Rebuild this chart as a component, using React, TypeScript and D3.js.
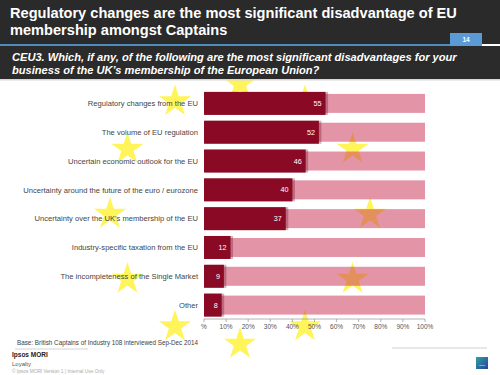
import React from "react";
import * as d3 from "d3";

const categories = [
  "Regulatory changes from the EU",
  "The volume of EU regulation",
  "Uncertain economic outlook for the EU",
  "Uncertainty around the future of the euro / eurozone",
  "Uncertainty over the UK's membership of the EU",
  "Industry-specific taxation from the EU",
  "The incompleteness of the Single Market",
  "Other",
];
const values = [55, 52, 46, 40, 37, 12, 9, 8];
const ticks = [0, 10, 20, 30, 40, 50, 60, 70, 80, 90, 100];
const tickLabels = ["%", "10%", "20%", "30%", "40%", "50%", "60%", "70%", "80%", "90%", "100%"];
const starAngles = [0, 30, 60, 90, 120, 150, 180, 210, 240, 270, 300, 330];

const titleLines = [
  "Regulatory changes are the most significant disadvantage of EU",
  "membership amongst Captains",
];
const questionLines = [
  "CEU3. Which, if any, of the following are the most significant disadvantages for your",
  "business of the UK\u2019s membership of the European Union?",
];

export default function App() {
  const W = 500, H = 375;
  const x = d3.scaleLinear().domain([0, 100]).range([204, 425]);
  const y = d3.scaleBand<string>().domain(categories).range([89, 319.5]).padding(0);
  const bw = y.bandwidth();
  const starPath = d3.symbol(d3.symbolStar, 320)() as string;
  const cx = 240, cy = 214, R = 130;
  const font = "Liberation Sans, Arial, sans-serif";

  return (
    <svg width={W} height={H} style={{ position: "absolute", left: 0, top: 0, display: "block" }} fontFamily={font}>
      <rect width={W} height={H} fill="#ffffff" />
      {/* stars */}
      {starAngles.map((a) => {
        const r = (a * Math.PI) / 180;
        return (
          <path key={a} d={starPath} fill="#fff55a"
            transform={`translate(${cx + R * Math.sin(r)},${cy - R * Math.cos(r)})`} />
        );
      })}
      {/* category labels */}
      {categories.map((c) => (
        <text key={c} x={198} y={(y(c) as number) + bw / 2} dy="0.35em" textAnchor="end" fontSize={7.6} fill="#454545">
          {c}
        </text>
      ))}
      {/* background bars */}
      {categories.map((c) => (
        <rect key={c} x={x(0)} y={(y(c) as number) + bw / 2 - 9.5} width={x(100) - x(0)} height={19}
          fill="#cd3c5f" fillOpacity={0.55} />
      ))}
      {/* value bars */}
      {categories.map((c, i) => (
        <g key={c}>
          <rect x={x(0) + 1} y={(y(c) as number) + bw / 2 - 11.5} width={x(values[i]) - x(0) + 1.5} height={23}
            fill="#5a0a1c" opacity={0.3} />
          <rect x={x(0)} y={(y(c) as number) + bw / 2 - 11.5} width={x(values[i]) - x(0)} height={23}
            fill="#8a0a26" />
          <text x={x(values[i]) - 4} y={(y(c) as number) + bw / 2} dy="0.35em" textAnchor="end" fontSize={7.2} fill="#ffffff">
            {values[i]}
          </text>
        </g>
      ))}
      {/* axis */}
      <line x1={x(0)} x2={x(100)} y1={319} y2={319} stroke="#a0a0a0" strokeWidth={0.8} />
      {ticks.map((t, i) => (
        <g key={t}>
          <line x1={x(t)} x2={x(t)} y1={319} y2={322} stroke="#a0a0a0" strokeWidth={0.8} />
          <text x={x(t)} y={329} textAnchor="middle" fontSize={6.5} fill="#555">{tickLabels[i]}</text>
        </g>
      ))}
      {/* header */}
      <rect x={0} y={0} width={W} height={44} fill="#2a2a2a" />
      <rect x={0} y={46} width={W} height={33} fill="#2b2b2b" />
      <rect x={0} y={44} width={450} height={2} fill="#4d8dbf" />
      <rect x={450} y={33} width={32} height={13} fill="#5b9bd5" />
      <text x={466} y={42} textAnchor="middle" fontSize={6.5} fontWeight="bold" fill="#ffffff">14</text>
      {titleLines.map((t, i) => (
        <text key={i} x={10} y={18 + i * 17} fontSize={14.6} fontWeight="bold" fill="#ffffff">{t}</text>
      ))}
      {questionLines.map((t, i) => (
        <text key={i} x={12} y={61 + i * 12.5} fontSize={11.1} fontWeight="bold" fontStyle="italic" fill="#ffffff">{t}</text>
      ))}
      <rect x={0} y={79} width={W} height={1.5} fill="#d8d8d8" />
      {/* footer */}
      <text x={17} y={345} fontSize={6.3} fill="#404040">Base: British Captains of Industry 108  interviewed Sep-Dec 2014</text>
      <line x1={15} x2={88} y1={349} y2={349} stroke="#c8c8c8" strokeWidth={0.8} />
      <text x={12} y={357} fontSize={6.5} fontWeight="bold" fill="#222">Ipsos MORI</text>
      <text x={12} y={366} fontSize={6} fill="#555">Loyalty</text>
      <text x={12} y={373} fontSize={4.8} fill="#aaa">© Ipsos MORI   Version 1 | Internal Use Only</text>
      <line x1={392} x2={487} y1={348} y2={348} stroke="#d0d0d0" strokeWidth={1} />
      <defs>
        <linearGradient id="logo" x1="0" y1="0" x2="1" y2="1">
          <stop offset="0" stopColor="#2aa6a0" />
          <stop offset="1" stopColor="#2a3f9a" />
        </linearGradient>
      </defs>
      <rect x={476} y={357} width={12} height={12} fill="url(#logo)" />
      <text x={482} y={366} textAnchor="middle" fontSize={2.5} fill="#fff">Ipsos</text>
    </svg>
  );
}
